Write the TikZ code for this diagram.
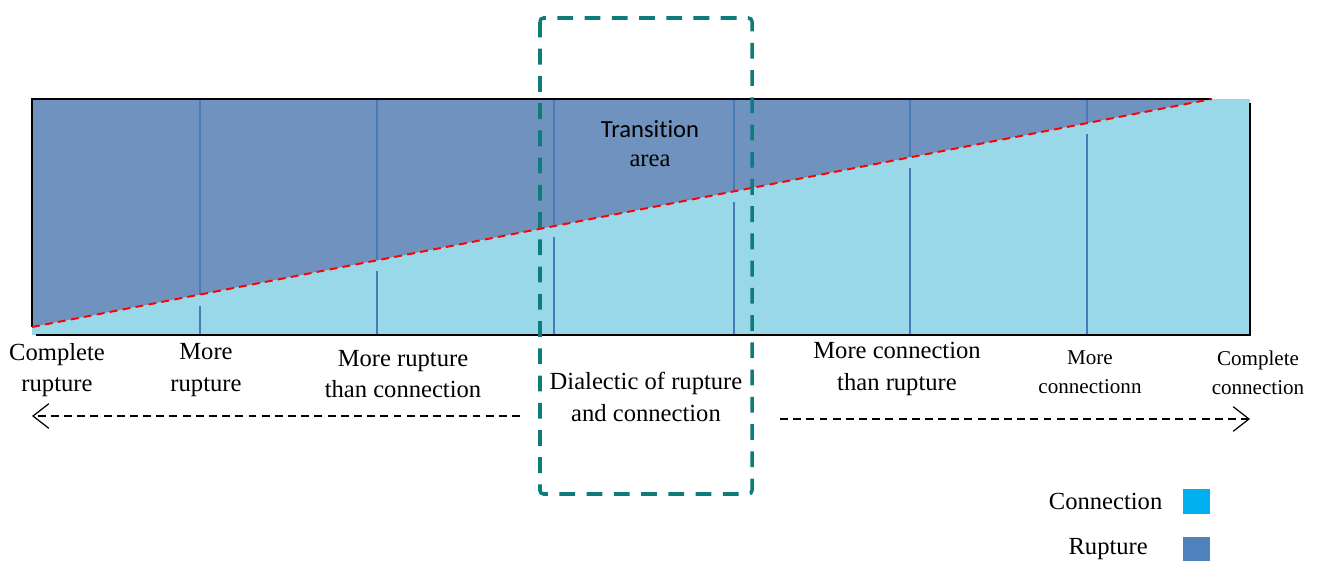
\documentclass[tikz,border=0pt]{standalone}
\usepackage{fontspec}
\setmainfont{Liberation Serif}
\newfontfamily\transfont[Ligatures=NoCommon]{Carlito}
\usetikzlibrary{positioning,arrows.meta}
\definecolor{rupturefill}{HTML}{7092BE}
\definecolor{connectfill}{HTML}{99D8E9}
\definecolor{stageline}{HTML}{4A7AB5}
\definecolor{transbox}{HTML}{0E7C7B}
\definecolor{legendconn}{HTML}{00B0F0}
\definecolor{legendrupt}{HTML}{4F81BD}
\tikzset{
  stage/.style={align=center,font=\fontsize{14}{18}\selectfont,inner sep=0pt},
  smallstage/.style={align=center,font=\fontsize{12}{16.5}\selectfont,inner sep=0pt},
  trend/.style={dash pattern=on 4.5pt off 3pt,line width=0.7pt,-{Straight Barb[length=9pt,width=14pt]}},
  swatch/.style={minimum width=0.54cm,minimum height=0.5cm,inner sep=0pt},
}

\begin{document}
\begin{tikzpicture}[x=0.02cm,y=-0.02cm]
  \useasboundingbox (0,0) rectangle (1319,561);

  \fill[connectfill] (32,335) -- (32,327) -- (1212,99) -- (1250,99) -- (1250,335) -- cycle;
  \fill[rupturefill] (32,99) -- (1212,99) -- (32,327) -- cycle;
  \foreach \x in {200,377,554,734,910,1087} {
    \pgfmathsetmacro\yd{327-(\x-32)*0.19322}
    \draw[stageline,line width=1.1pt] (\x,99) -- (\x,\yd) (\x,\yd+11) -- (\x,335);
  }
  \draw[line width=1.1pt] (1212,99) -- (32,99) -- (32,327);
  \draw[line width=1.1pt] (36,335) -- (1250,335) -- (1250,103);
  \draw[red,line width=1.1pt,dash pattern=on 4.5pt off 3pt] (32,327) -- (1212,99);

  \draw[transbox,line width=2pt,dash pattern=on 9pt off 6.5pt,rounded corners=2pt]
    (540,18) rectangle (752,494);

  \node[font=\transfont\fontsize{14}{18}\selectfont,inner sep=0pt] (trans) at (650,129) {Transition};
  \node[stage] (area) at (650,161) {area};

  \node[stage] (crupture) at (57,370) {Complete\\rupture};
  \node[stage] (mrupture) at (206,370) {More\\rupture};
  \node[stage] (mrthanc) at (403,374) {More rupture\\than connection};
  \node[stage] (dialectic) at (646,397) {Dialectic of rupture\\and connection};
  \node[stage] (mcthanr) at (897,369) {More connection\\than rupture};
  \node[smallstage] (mconn) at (1090,372) {More\\connectionn};
  \node[smallstage] (cconn) at (1258,373) {Complete\\connection};

  \coordinate (leftstart) at (520,416);
  \coordinate (leftend) at (32,416);
  \coordinate (rightstart) at (780,419);
  \coordinate (rightend) at (1250,419);
  \draw[trend] (leftstart) -- (leftend);
  \draw[trend] (rightstart) -- (rightend);

  \node[swatch,fill=legendconn] (connbox) at (1196.5,501.5) {};
  \node[swatch,fill=legendrupt] (ruptbox) at (1196.5,549) {};
  \node[stage,left=0.4cm of connbox] (connlabel) {Connection};
  \node[stage,left=0.69cm of ruptbox] (ruptlabel) {Rupture};
\end{tikzpicture}
\end{document}
